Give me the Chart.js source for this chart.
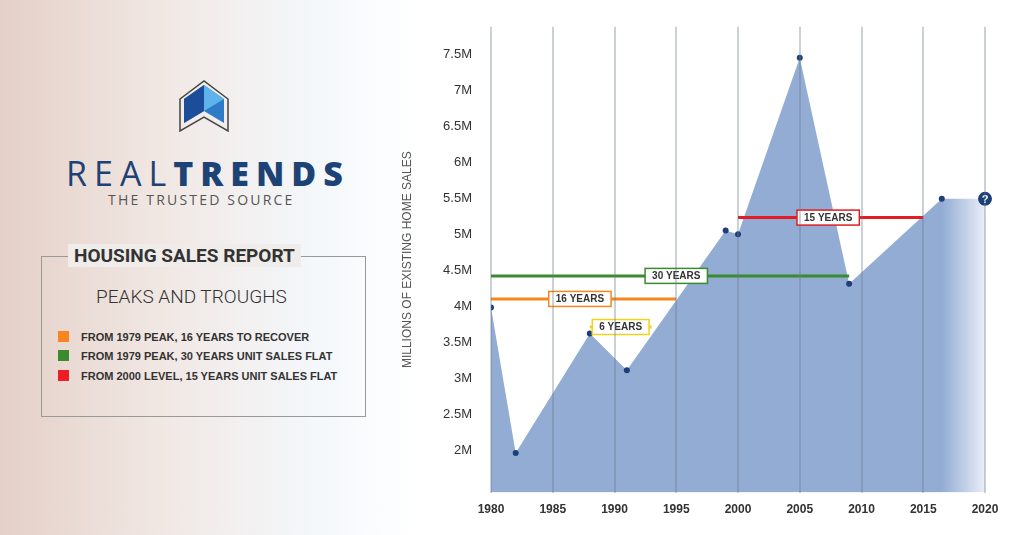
<!DOCTYPE html>
<html><head><meta charset="utf-8">
<script src="https://cdn.jsdelivr.net/npm/chart.js@4"></script>
<style>
html,body{margin:0;padding:0;width:1024px;height:535px;overflow:hidden;background:#fff;font-family:"Open Sans",Arial,sans-serif}
#left{position:absolute;left:0;top:0;width:420px;height:535px;
background:linear-gradient(90deg,rgba(196,150,130,0.45) 0%,rgba(215,190,180,0.35) 40%,rgba(230,238,246,0.45) 75%,rgba(255,255,255,1) 100%)}
#logo{position:absolute;left:172px;top:77px}
#brand{position:absolute;left:66px;top:150px;font-family:"Open Sans";font-size:34px;letter-spacing:7px;color:#1d4275}
#brand b{font-weight:800}
#tag{position:absolute;left:108px;top:190px;font-size:14px;letter-spacing:2.2px;color:#555}
#box{position:absolute;left:41px;top:256px;width:325px;height:161px;border:1.5px solid #999;box-sizing:border-box}
#ttl{position:absolute;left:68px;top:244px;padding:0 6px;font-family:Roboto;font-weight:700;font-size:19px;color:#333;background:rgba(240,236,234,1)}
#sub{position:absolute;left:96px;top:285px;font-family:Roboto;font-weight:300;font-size:19px;color:#333}
.lg{position:absolute;left:58px;font-family:"Liberation Sans",Arial;font-weight:700;font-size:11px;color:#333}
.lg i{display:inline-block;width:11px;height:11px;vertical-align:-1px;margin-right:12px}
#c{position:absolute;left:400px;top:0}
</style></head><body>
<div id="left"></div>
<svg id="logo" width="64" height="58" viewBox="0 0 64 58">
<polygon points="8,22 32,4 56,22 56,54 32,40 8,54" fill="none" stroke="#444" stroke-width="1.5"/>
<polygon points="12,22 32,8 52,22 52,46 32,34 12,46" fill="#2e7cc8"/>
<polygon points="12,22 32,8 32,34 12,46" fill="#1b4d9a"/>
<polygon points="32,8 52,22 32,34" fill="#5db3ea"/>
</svg>
<div id="brand">REAL<b>TRENDS</b></div>
<div id="tag">THE TRUSTED SOURCE</div>
<div id="box"></div>
<div id="ttl">HOUSING SALES REPORT</div>
<div id="sub">PEAKS AND TROUGHS</div>
<div class="lg" style="top:331px"><i style="background:#f7861e"></i>FROM 1979 PEAK, 16 YEARS TO RECOVER</div>
<div class="lg" style="top:350px"><i style="background:#3a8a2e"></i>FROM 1979 PEAK, 30 YEARS UNIT SALES FLAT</div>
<div class="lg" style="top:370px"><i style="background:#ee1c24"></i>FROM 2000 LEVEL, 15 YEARS UNIT SALES FLAT</div>
<canvas id="c" width="624" height="535"></canvas>
<script>
const years=[1980,1982,1988,1991,1999,2000,2005,2009,2016.5,2020];
const sales=[3.99,1.97,3.63,3.12,5.06,5.01,7.46,4.32,5.5,5.5];
const yTicks=[2,2.5,3,3.5,4,4.5,5,5.5,6,6.5,7,7.5];
const spans=[
 {label:'16 YEARS',x0:1980,x1:1995,y:4.11,color:'#f7861e',lx:1987.2},
 {label:'30 YEARS',x0:1980,x1:2009,y:4.43,color:'#3a8a2e',lx:1995},
 {label:'15 YEARS',x0:2000,x1:2015,y:5.24,color:'#e31b23',lx:2007.3},
 {label:'6 YEARS',x0:1988,x1:1993,y:3.72,color:'#f2d31b',lx:1990.5}
];
const areaFill=(ctx)=>{const ch=ctx.chart,a=ch.chartArea;if(!a)return '#92acd4';
 const xs=ch.scales.x;const s=xs.getPixelForValue(2016.5),e=xs.getPixelForValue(2020);
 const g=ch.ctx.createLinearGradient(s,0,e,0);g.addColorStop(0,'rgba(146,172,212,1)');g.addColorStop(1,'rgba(146,172,212,0.2)');return g;};
const labelPlugin={id:'lbl',afterDatasetsDraw(ch){const c=ch.ctx,xs=ch.scales.x,ys=ch.scales.y;
 c.save();c.font='bold 10px "Liberation Sans",Arial';c.textAlign='center';c.textBaseline='middle';
 spans.forEach(s=>{const x=xs.getPixelForValue(s.lx),y=ys.getPixelForValue(s.y);const w=c.measureText(s.label).width+14,h=15;
  c.fillStyle='#fff';c.fillRect(x-w/2,y-h/2,w,h);c.strokeStyle=s.color;c.lineWidth=1.5;c.strokeRect(x-w/2,y-h/2,w,h);
  c.fillStyle='#333';c.fillText(s.label,x,y+0.5);});
 const qx=xs.getPixelForValue(2020),qy=ys.getPixelForValue(5.5);
 c.beginPath();c.arc(qx,qy,7,0,Math.PI*2);c.fillStyle='#1d3f78';c.fill();
 c.fillStyle='#fff';c.font='bold 11px "Liberation Sans",Arial';c.fillText('?',qx,qy+1);c.restore();}};
const ds=[{type:'line',data:years.map((x,i)=>({x,y:sales[i]})),fill:'start',backgroundColor:areaFill,borderWidth:0,
 pointRadius:years.map((v,i)=>i===years.length-1?0:3),pointBackgroundColor:'#1d3f78',pointBorderWidth:0,tension:0,order:2}];
spans.forEach(s=>ds.push({type:'line',data:[{x:s.x0,y:s.y},{x:s.x1,y:s.y}],borderColor:s.color,borderWidth:3,pointRadius:0,fill:false,order:1}));
new Chart(document.getElementById('c'),{type:'line',data:{datasets:ds},
 options:{responsive:false,animation:false,plugins:{legend:{display:false},tooltip:{enabled:false}},
 layout:{padding:{left:0,right:39,top:11,bottom:8}},
 scales:{
  x:{type:'linear',min:1980,max:2020,ticks:{stepSize:5,callback:v=>String(v),color:'#333',font:{size:12,weight:'bold',family:'"Liberation Sans"'},padding:10},
     grid:{color:'rgba(110,120,140,0.35)',lineWidth:2,z:1,drawTicks:false},border:{display:false}},
  y:{min:1.42,max:7.89,afterBuildTicks:(s)=>{s.ticks=yTicks.map(v=>({value:v}));},afterFit:(s)=>{s.width=91;},
     ticks:{callback:v=>v+'M',color:'#333',font:{size:13,family:'"Liberation Sans"'},padding:19},
     grid:{display:false,drawTicks:false},border:{display:false},
     title:{display:true,text:'MILLIONS OF EXISTING HOME SALES',color:'#555',font:{size:12,family:'"Liberation Sans"'},padding:0}}
 }},plugins:[labelPlugin]});
</script></body></html>
